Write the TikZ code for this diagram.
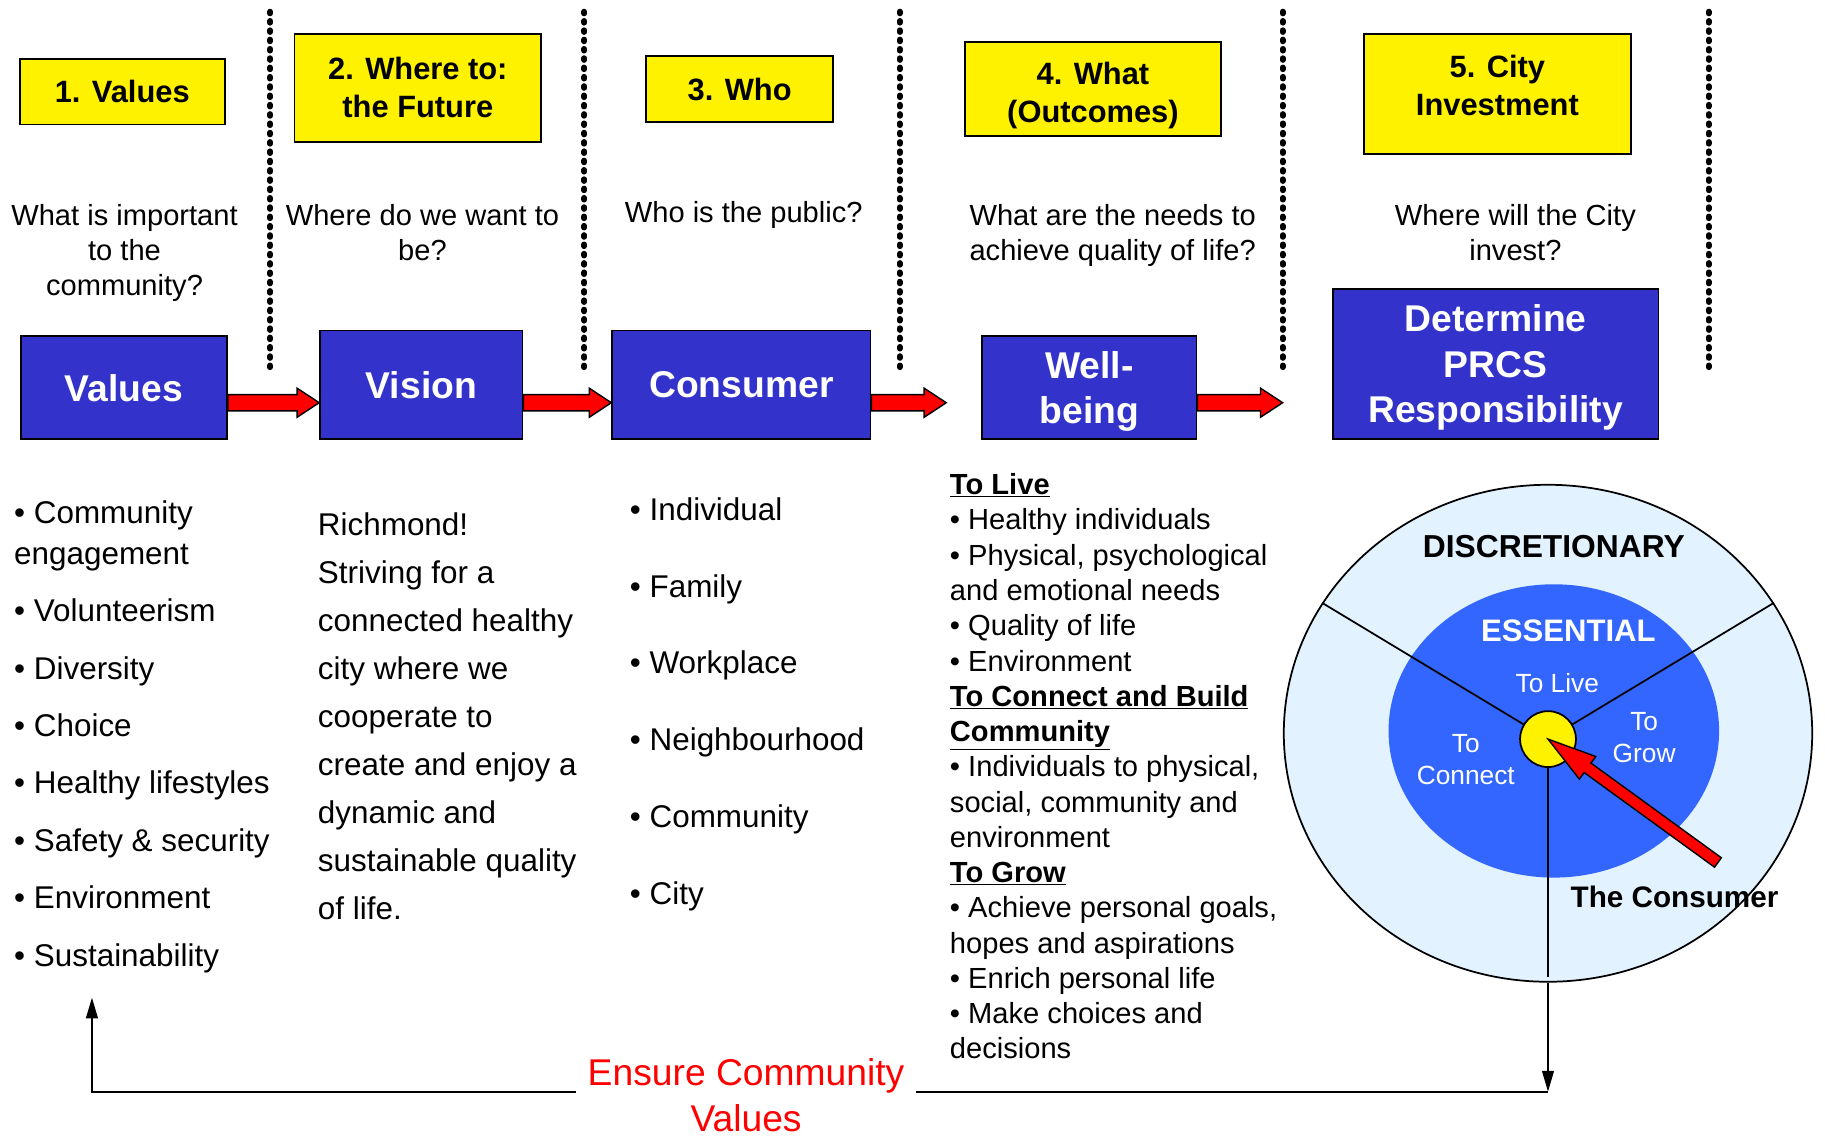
\documentclass[tikz,border=0pt]{standalone}
\usepackage{fontspec}
\setmainfont{Liberation Sans}
\usetikzlibrary{calc,arrows.meta,shapes.geometric}

\definecolor{stageblue}{RGB}{51,51,204}
\definecolor{coreblue}{RGB}{51,102,255}
\definecolor{paleblue}{RGB}{227,242,255}

\tikzset{
  stage/.style={draw=black, fill=yellow, line width=1.5, inner sep=0, align=center,
    font=\fontsize{26.5}{32.5}\selectfont\bfseries},
  ask/.style={inner sep=0, align=center, font=\fontsize{25}{30}\selectfont},
  phase/.style={draw=black, fill=stageblue, text=white, line width=1.5, inner sep=0,
    align=center, text depth=0pt, font=\fontsize{32}{38.5}\selectfont\bfseries},
  divider/.style={line width=5, dash pattern=on 1.5pt off 6.5pt, line cap=round},
  redarrow/.style={fill=red, draw=black, line width=1.2, line join=miter},
  listing/.style={inner sep=0, anchor=west, align=left},
  wheeltext/.style={inner sep=0, align=center, text=white, font=\fontsize{22.6}{27.7}\selectfont},
  feedback/.style={line width=2, -{Triangle[length=18pt,width=10pt]}},
}

% fat red arrow: shaft half width, head half width, head length, from, to
\newcommand\blockarrow[5]{%
  \coordinate (tipbase) at ($(#5)!#3!(#4)$);
  \draw[redarrow] ($(#4)!#1!90:(#5)$) -- ($(tipbase)!#1!90:(#5)$)
    -- ($(tipbase)!#2!90:(#5)$) -- (#5) -- ($(tipbase)!#2!-90:(#5)$)
    -- ($(tipbase)!#1!-90:(#5)$) -- ($(#4)!#1!-90:(#5)$) -- cycle;
}

\begin{document}
\begin{tikzpicture}[x=1pt,y=-1pt]
\useasboundingbox (0,0) rectangle (1568,985);

% column dividers
\foreach \x in {232,502,773,1102,1468}
  \draw[divider] (\x,10) -- (\x,320);

% the five steps
\node[stage, minimum width=176, minimum height=56] (s1) at (105,79) {1. Values};
\node[stage, minimum width=212, minimum height=93] (s2) at (359,75.5) {2. Where to:\\the Future};
\node[stage, minimum width=161, minimum height=57] (s3) at (635.5,76.5) {3. Who};
\node[stage, minimum width=220, minimum height=81, text height=57.5pt, text depth=0pt]
  (s4) at (939,76.5) {4. What\\(Outcomes)};
\node[stage, minimum width=229, minimum height=103, text depth=14pt]
  (s5) at (1286.5,80.5) {5. City\\Investment};

\node[ask] (ask1) at (107,217.5) {What is important\\to the\\community?};
\node[ask] (ask2) at (363,199.5) {Where do we want to\\be?};
\node[ask] (ask3) at (639,185) {Who is the public?};
\node[ask] (ask4) at (956,202) {What are the needs to\\achieve quality of life?};
\node[ask] (ask5) at (1302,199.5) {Where will the City\\invest?};

\node[phase, minimum width=177, minimum height=88] (values) at (106.5,333) {Values};
\node[phase, minimum width=174, minimum height=93] (vision) at (362,330.5) {Vision};
\node[phase, minimum width=222, minimum height=93] (consumer) at (637,330.5) {Consumer};
\node[phase, minimum width=184, minimum height=88] (wellbeing) at (936,333) {Well-\\being};
\node[phase, minimum width=280, minimum height=129, font=\fontsize{32}{39}\selectfont\bfseries]
  (prcs) at (1285,312.5) {Determine\\PRCS\\Responsibility};

\coordinate (arrowrow) at (0,346);
\coordinate (wbgap) at (813,346);
\coordinate (prcsgap) at (1102,346);
\blockarrow{7pt}{12.5pt}{19pt}{values.east |- arrowrow}{vision.west |- arrowrow}
\blockarrow{7pt}{12.5pt}{19pt}{vision.east |- arrowrow}{consumer.west |- arrowrow}
\blockarrow{7pt}{12.5pt}{19pt}{consumer.east |- arrowrow}{wbgap}
\blockarrow{7pt}{12.5pt}{19pt}{wellbeing.east |- arrowrow}{prcsgap}

% lists under each step
\node[listing, font=\fontsize{27}{35}\selectfont] (valuelist) at (12,633) {%
  • Community\\engagement\\[14.3pt]
  • Volunteerism\\[14.3pt]
  • Diversity\\[14.3pt]
  • Choice\\[14.3pt]
  • Healthy lifestyles\\[14.3pt]
  • Safety \& security\\[14.3pt]
  • Environment\\[14.3pt]
  • Sustainability};

\node[listing, font=\fontsize{27}{41.25}\selectfont] (visiontext) at (273,615) {%
  Richmond!\\Striving for a\\connected healthy\\city where we\\cooperate to\\
  create and enjoy a\\dynamic and\\sustainable quality\\of life.};

\node[listing, font=\fontsize{27}{66}\selectfont] (consumerlist) at (541,605) {%
  • Individual\\• Family\\• Workplace\\• Neighbourhood\\• Community\\• City};

\node[listing, font=\fontsize{25}{30.3}\selectfont] (outcomes) at (816,658.5) {%
  \underline{\textbf{To Live}}\\
  • Healthy individuals\\
  • Physical, psychological\\
  and emotional needs\\
  • Quality of life\\
  • Environment\\
  \underline{\textbf{To Connect and Build}}\\
  \underline{\textbf{Community}}\\
  • Individuals to physical,\\
  social, community and\\
  environment\\
  \underline{\textbf{To Grow}}\\
  • Achieve personal goals,\\
  hopes and aspirations\\
  • Enrich personal life\\
  • Make choices and\\
  decisions};

% needs wheel
\node[ellipse, draw=black, fill=paleblue, line width=1.5, minimum width=454,
  minimum height=427, inner sep=0] (wheel) at (1330,630) {};
\node[ellipse, fill=coreblue, minimum width=284, minimum height=252, inner sep=0]
  (essential) at (1335,628) {};
\coordinate (hubpt) at (1330,635);
\draw[line width=1.5] (hubpt) -- (wheel.150);
\draw[line width=1.5] (hubpt) -- (wheel.30);
\draw[line width=1.5, shorten >=5pt] (hubpt) -- (wheel.south);
\node[circle, draw=black, fill=yellow, line width=1.5, minimum size=48, inner sep=0]
  (hub) at (hubpt) {};

\node[inner sep=0, font=\fontsize{27.3}{32}\selectfont\bfseries] (discr) at (1335,470) {DISCRETIONARY};
\node[inner sep=0, text=white, font=\fontsize{26.7}{32}\selectfont\bfseries] (esslabel) at (1347.5,542) {ESSENTIAL};
\node[wheeltext] (tolive) at (1338,587) {To Live};
\node[wheeltext] (togrow) at (1412.6,633.6) {To\\Grow};
\node[wheeltext] (toconnect) at (1259.4,652.6) {To\\Connect};
\node[inner sep=0, font=\fontsize{25.5}{30}\selectfont\bfseries] (thecons) at (1438.7,770.5) {The Consumer};

\coordinate (ctail) at (1476,741);
\blockarrow{5pt}{12pt}{42pt}{ctail}{hub.center}

% back to the values
\coordinate (loopdrop) at (1330,938);
\coordinate (loopturn) at (79,938);
\coordinate (loopend) at (79,857);
\draw[feedback] (wheel.south) -- (loopdrop);
\draw[feedback] (loopdrop) -- (loopturn) -- (loopend);
\node[fill=white, inner xsep=10, inner ysep=0, align=center, text=red,
  font=\fontsize{32}{40}\selectfont] (ensure) at (641,941) {Ensure Community\\Values};

\end{tikzpicture}
\end{document}
